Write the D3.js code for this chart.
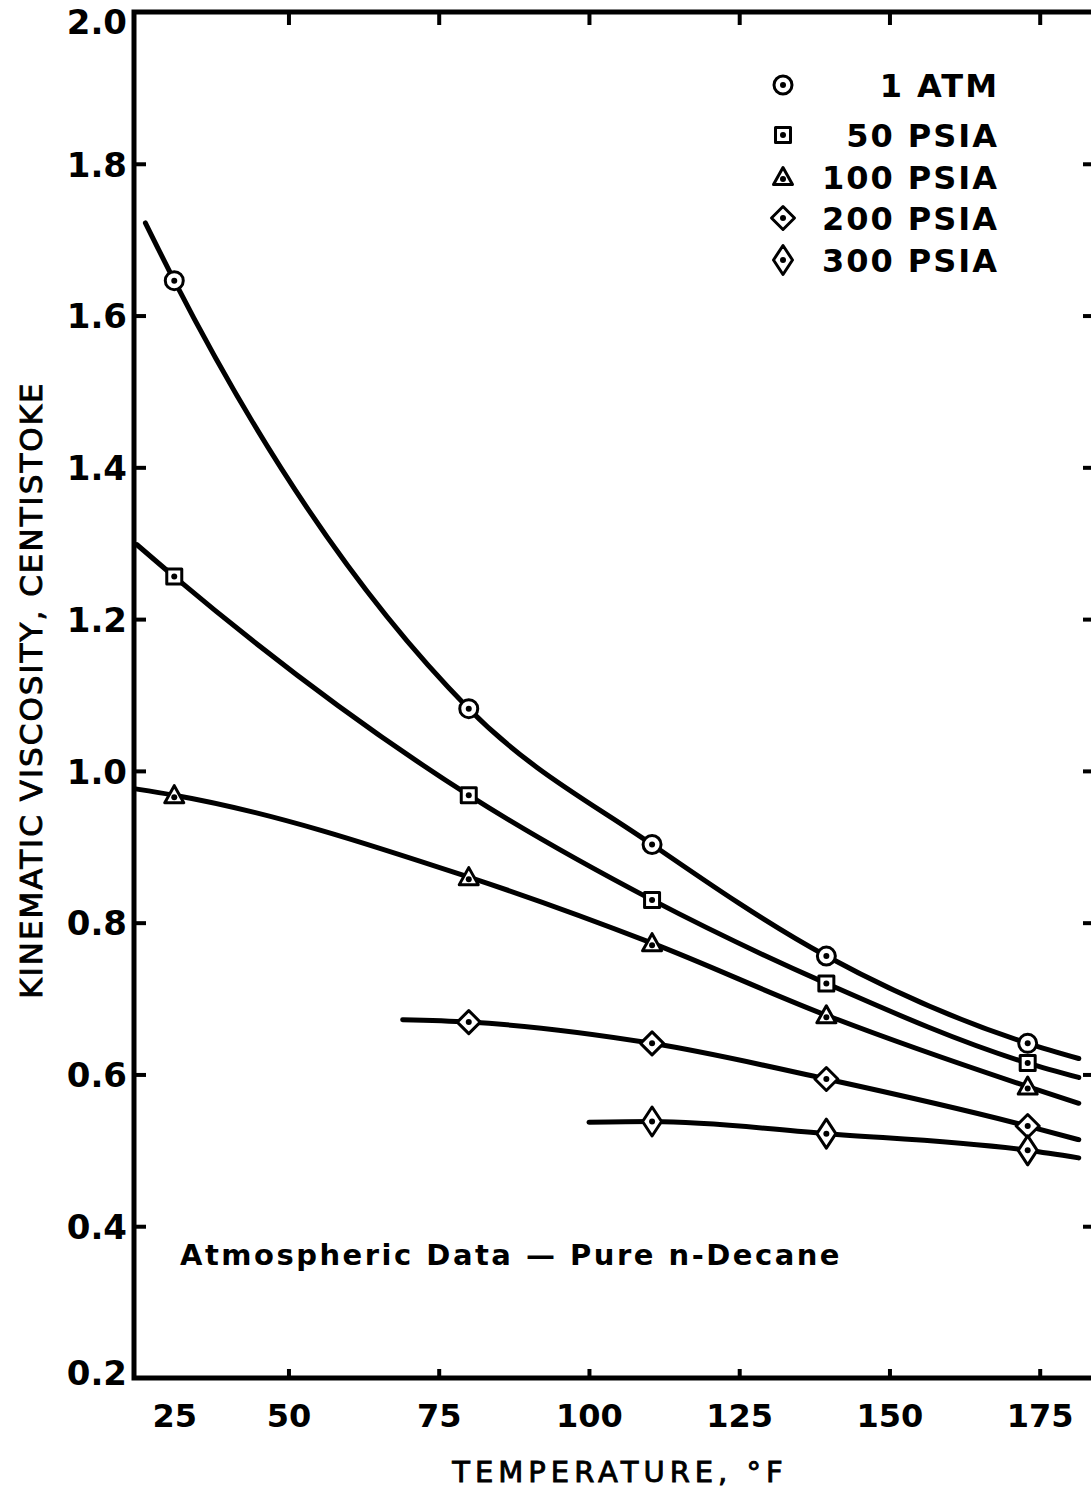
<!DOCTYPE html>
<html>
<head>
<meta charset="utf-8">
<script src="https://cdn.jsdelivr.net/npm/d3@7"></script>
<style>
  html, body { margin: 0; padding: 0; background: #fff; }
  svg { display: block; }
  text { fill: #000; }
</style>
</head>
<body>
<svg id="chart" width="1091" height="1507"></svg>
<script>
// Kinematic viscosity of n-decane vs temperature at several pressures

// temperatures (deg F) of the measured points
const tempsLow = [31, 80, 110.5, 139.5, 173];
const temps200 = [80, 110.5, 139.5, 173];
const temps300 = [110.5, 139.5, 173];

// measured kinematic viscosity, centistoke
const atm1 = [1.646, 1.082, 0.903, 0.756, 0.641];
const psia50 = [1.256, 0.968, 0.830, 0.720, 0.615];
const psia100 = [0.968, 0.860, 0.773, 0.678, 0.584];
const psia200 = [0.669, 0.641, 0.594, 0.532];
const psia300 = [0.538, 0.522, 0.500];

// ends of the smoothed curves [temperature, viscosity]
const atm1Ends = [[26.2, 1.722], [181.5, 0.621]];
const psia50Ends = [[24.8, 1.298], [181.5, 0.596]];
const psia100Ends = [[24.8, 0.976], [181.5, 0.562]];
const psia200Ends = [[69.0, 0.672], [181.5, 0.514]];
const psia300Ends = [[100.0, 0.537], [181.5, 0.490]];

// legend and axis labels
const legendLabels = ["1 ATM", "50 PSIA", "100 PSIA", "200 PSIA", "300 PSIA"];
const xTicks = [25, 50, 75, 100, 125, 150, 175];
const yTicks = [0.2, 0.4, 0.6, 0.8, 1.0, 1.2, 1.4, 1.6, 1.8, 2.0];

const series = [
  { name: legendLabels[0], temps: tempsLow, values: atm1, ends: atm1Ends, marker: "circle" },
  { name: legendLabels[1], temps: tempsLow, values: psia50, ends: psia50Ends, marker: "square" },
  { name: legendLabels[2], temps: tempsLow, values: psia100, ends: psia100Ends, marker: "triangle" },
  { name: legendLabels[3], temps: temps200, values: psia200, ends: psia200Ends, marker: "diamondWide" },
  { name: legendLabels[4], temps: temps300, values: psia300, ends: psia300Ends, marker: "diamondTall" }
];

const svg = d3.select("#chart");
const plotLeft = 134, plotRight = 1095, plotTop = 12, plotBottom = 1378;

const x = d3.scaleLinear().domain([24.3, 184.2]).range([plotLeft, plotRight]);
const y = d3.scaleLinear().domain([0.2, 2.0]).range([plotBottom, plotTop]);

const tickFont = "'DejaVu Sans', sans-serif";

// frame
const frame = svg.append("g").attr("stroke", "#000").attr("stroke-width", 5).attr("fill", "none");
frame.append("path").attr("d", `M${plotRight + 10},${plotTop} H${plotLeft} V${plotBottom} H${plotRight + 10}`)
  .attr("stroke-linejoin", "miter").attr("stroke-linecap", "square");
frame.append("line").attr("x1", plotRight).attr("x2", plotRight).attr("y1", plotTop).attr("y2", plotBottom);

// left axis: inward ticks and labels
const yAxis = d3.axisLeft(y).tickValues(yTicks).tickSize(-12).tickPadding(6)
  .tickFormat(d3.format(".1f"));
const gy = svg.append("g").attr("transform", `translate(${plotLeft},0)`).call(yAxis);
gy.select(".domain").remove();
gy.selectAll(".tick line").attr("stroke", "#000").attr("stroke-width", 4)
  .filter(d => d === 0.2 || d === 2.0).remove();
gy.selectAll(".tick text").attr("font-family", tickFont).attr("font-weight", "bold")
  .attr("font-size", 34).attr("dx", -1).attr("dy", "0.36em");
// end labels tucked inside the page at the frame corners
gy.selectAll(".tick text").filter(d => d === 2.0).attr("dy", "0.62em");
gy.selectAll(".tick text").filter(d => d === 0.2).attr("dy", "0.2em");

// right axis: inward ticks only
const gyr = svg.append("g").attr("transform", `translate(${plotRight},0)`)
  .call(d3.axisRight(y).tickValues(yTicks.filter(d => d > 0.2 && d < 2.0)).tickSize(-12).tickFormat(""));
gyr.select(".domain").remove();
gyr.selectAll(".tick line").attr("stroke", "#000").attr("stroke-width", 4);

// bottom axis: short inward ticks and labels
const xAxis = d3.axisBottom(x).tickValues(xTicks).tickSize(-9).tickPadding(26).tickFormat(d3.format("d"));
const gx = svg.append("g").attr("transform", `translate(0,${plotBottom})`).call(xAxis);
gx.select(".domain").remove();
gx.selectAll(".tick line").attr("stroke", "#000").attr("stroke-width", 4)
  .filter(d => d === 25).remove();
gx.selectAll(".tick text").attr("font-family", tickFont).attr("font-weight", "bold").attr("font-size", 32);
// the first label sits clear of the left axis line
gx.selectAll(".tick text").filter(d => d === 25).attr("dx", 36);

// top axis: inward ticks only
const gxt = svg.append("g").attr("transform", `translate(0,${plotTop})`)
  .call(d3.axisTop(x).tickValues(xTicks.filter(d => d > 25)).tickSize(-13).tickFormat(""));
gxt.select(".domain").remove();
gxt.selectAll(".tick line").attr("stroke", "#000").attr("stroke-width", 4);

// axis titles (book weight, slightly thickened)
svg.append("text")
  .attr("transform", `translate(${42},${690}) rotate(-90)`)
  .attr("text-anchor", "middle")
  .attr("font-family", tickFont).attr("font-size", 31).attr("letter-spacing", 2)
  .attr("stroke", "#000").attr("stroke-width", 0.9)
  .text("KINEMATIC VISCOSITY, CENTISTOKE");

svg.append("text")
  .attr("x", 620).attr("y", 1482)
  .attr("text-anchor", "middle")
  .attr("font-family", tickFont).attr("font-size", 29).attr("letter-spacing", 5)
  .attr("stroke", "#000").attr("stroke-width", 0.9)
  .text("TEMPERATURE, °F");

// curves
const line = d3.line()
  .x(d => x(d[0])).y(d => y(d[1]))
  .curve(d3.curveMonotoneX);

series.forEach(s => {
  const pts = [s.ends[0], ...s.temps.map((t, i) => [t, s.values[i]]), s.ends[1]];
  svg.append("path")
    .datum(pts)
    .attr("d", line)
    .attr("fill", "none")
    .attr("stroke", "#000")
    .attr("stroke-width", 5)
    .attr("stroke-linecap", "round");
});

// marker shapes centred on the origin
function markerPath(kind) {
  switch (kind) {
    case "square": return "M-7.5,-7.5H7.5V7.5H-7.5Z";
    case "triangle": return "M0,-9.5L9.5,7.5H-9.5Z";
    case "diamondWide": return "M0,-11.5L11.5,0L0,11.5L-11.5,0Z";
    case "diamondTall": return "M0,-14.5L9.5,0L0,14.5L-9.5,0Z";
  }
  return null;
}

function drawMarker(g, kind) {
  if (kind === "circle") {
    g.append("circle").attr("r", 9).attr("fill", "#fff").attr("stroke", "#000").attr("stroke-width", 3);
  } else {
    g.append("path").attr("d", markerPath(kind)).attr("fill", "#fff")
      .attr("stroke", "#000").attr("stroke-width", 3).attr("stroke-linejoin", "round");
  }
  g.append("circle").attr("r", 3).attr("cy", kind === "triangle" ? 2 : 0).attr("fill", "#000");
}

series.forEach(s => {
  s.temps.forEach((t, i) => {
    const g = svg.append("g").attr("transform", `translate(${x(t)},${y(s.values[i])})`);
    drawMarker(g, s.marker);
  });
});

// legend
const legendRowsY = [85, 135, 177, 218, 260];
series.forEach((s, i) => {
  const g = svg.append("g").attr("transform", `translate(783,${legendRowsY[i]})`);
  drawMarker(g, s.marker);
  svg.append("text")
    .attr("x", 999).attr("y", legendRowsY[i])
    .attr("dy", "0.36em")
    .attr("text-anchor", "end")
    .attr("font-family", tickFont).attr("font-weight", "bold").attr("font-size", 32)
    .attr("letter-spacing", 2)
    .text(s.name);
});

// annotation
svg.append("text")
  .attr("x", 180).attr("y", 1265)
  .attr("font-family", tickFont).attr("font-weight", "bold").attr("font-size", 29)
  .attr("letter-spacing", 2.5)
  .text("Atmospheric Data — Pure n-Decane");
</script>
</body>
</html>
